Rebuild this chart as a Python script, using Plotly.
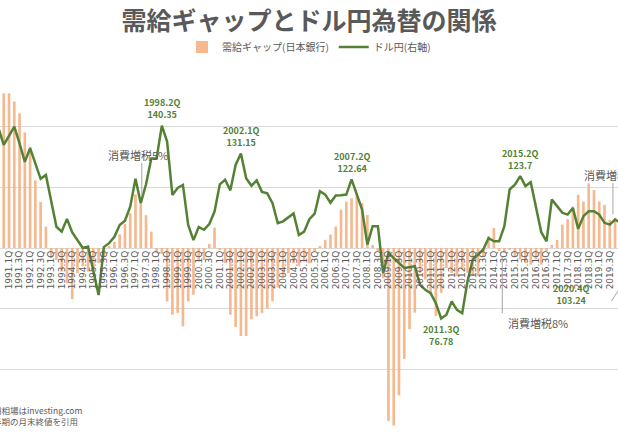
import plotly.graph_objects as go

years = list(range(1990, 2022))
quarters = [f"{y}.{q}Q" for y in years for q in (1, 2, 3, 4)][:125]

output_gap = [4.5, 4.8, 5.0, 5.1, 5.1, 4.83, 4.44, 3.81, 3.34, 2.23, 1.52, 0.7,
              -0.34, -0.4, -0.78, -1.16, -1.68, -0.83, -0.6, -0.78, -0.65, -0.5, -0.3, 0.05,
              0.2, 0.45, 0.8, 1.14, 1.77, 1.46, 1.08, 0.54, -0.17, -0.2, -1.76, -2.2,
              -2.14, -2.58, -1.76, -1.54, -0.45, -0.4, 0.13, 0.67, -0.07, -0.5, -2.2, -2.6,
              -2.9, -2.9, -2.35, -2.25, -2.14, -2.0, -1.76, -1.3, -0.93, -0.83, -0.5, -0.6,
              -0.45, -0.5, -0.1, 0.05, 0.27, 0.44, 0.71, 1.26, 1.53, 1.64, 1.8, 1.48,
              1.09, 0.1, -0.1, -1.0, -5.7, -5.85, -4.86, -3.66, -2.68, -2.13, -0.82, -1.04,
              -1.48, -2.24, -1.48, -0.66, -0.82, -0.93, -0.71, -0.82, -0.93, -0.93, -0.27, 0.38,
              0.66, -0.1, -0.16, -0.05, -0.27, -0.38, -0.49, -0.55, -0.38, -0.55, -0.1, 0.1,
              0.27, 0.77, 0.95, 1.37, 1.75, 1.53, 2.13, 1.91, 1.53, 1.42, 0.93, 1.0,
              -0.5, -4.0, -1.5, -1.0, -1.3]

usdjpy = [157.7, 152.9, 139.5, 134, 137, 140, 134.5, 128.4, 132.9, 127.5, 122.8, 124.1,
          116, 107, 105.4, 109.6, 105.1, 102.5, 100, 100.5, 92, 84.5, 100.3, 101.6,
          103.7, 107.6, 109, 113.6, 122.8, 114.8, 121, 129.5, 129.5, 140.35, 135.1, 117.5,
          119.8, 120.8, 107.6, 102.6, 106.9, 106, 107.9, 112, 121, 122.5, 119, 127.4,
          131.15, 123, 120.5, 122.3, 118.5, 118, 114.8, 108.2, 108.8, 110, 111.4, 104.3,
          105.4, 109.5, 111.3, 118.7, 117.6, 114.9, 117.3, 117.4, 117.6, 122.64, 117.6, 112.7,
          101.1, 107.2, 107.2, 91.7, 98.3, 96.7, 94.8, 93.4, 93.7, 94, 87.9, 86.2,
          85.1, 81.8, 76.78, 78, 82.4, 79.6, 78.5, 89, 96.2, 97.8, 99.5, 103.3,
          102.2, 102.2, 107.2, 119.3, 120.9, 123.7, 120.4, 121.7, 113.8, 105.2, 102.2, 116,
          113.8, 111.6, 111, 113.2, 106.3, 110.5, 112.1, 112.1, 111, 108.3, 107.7, 109.4,
          108.3, 107.9, 105.5, 103.24, 110.7]

tick_labels = [q for q in quarters if q.endswith(".1Q") or q.endswith(".3Q")]

peak_labels = [("1998.2Q", 140.35, 1), ("2002.1Q", 131.15, 1), ("2007.2Q", 122.64, 1),
               ("2011.3Q", 76.78, -1), ("2015.2Q", 123.7, 1)]

GREEN = "#548235"
GRAY = "#595959"
FONT = "Noto Sans CJK JP"

fig = go.Figure()
fig.add_trace(go.Bar(x=quarters, y=output_gap, name="需給ギャップ(日本銀行)",
                     marker=dict(color="#f4b183", line=dict(width=0)), width=0.5,
                     opacity=0.9, yaxis="y"))
fig.add_trace(go.Scatter(x=quarters, y=usdjpy, name="ドル円(右軸)", mode="lines",
                         line=dict(color=GREEN, width=2.5), yaxis="y2"))

ann = []
for q, v, d in peak_labels:
    ann.append(dict(x=q, y=v, xref="x", yref="y2", text=f"<b>{q}<br>{v}</b>",
                    showarrow=False, yshift=17 * d, font=dict(size=9, color=GREEN, family=FONT)))
ann += [
    dict(x=28.5, y=130.7, xref="x", yref="y2", text="消費増税5%", showarrow=False,
         font=dict(size=11, color=GRAY, family=FONT)),
    dict(x=104.4, y=75.2, xref="x", yref="y2", text="消費増税8%", showarrow=False,
         font=dict(size=11, color=GRAY, family=FONT)),
    dict(x=112.7, y=124, xref="x", yref="y2", text="消費増税10%", showarrow=False,
         xanchor="left", font=dict(size=11, color=GRAY, family=FONT)),
    dict(x=110.6, y=84.8, xref="x", yref="y2", text="<b>2020.4Q<br>103.24</b>", showarrow=False,
         font=dict(size=9, color=GREEN, family=FONT)),
    dict(x=0, y=0.04, xref="paper", yref="paper", xanchor="left", yanchor="middle", align="left",
         text="ドル円相場はinvesting.com<br>各四半期の月末終値を引用", showarrow=False,
         font=dict(size=8.5, color=GRAY, family=FONT), xshift=-26),
]

shapes = [
    dict(type="line", xref="x", yref="y2", x0=29.2, x1=29.2, y0=128, y1=117,
         line=dict(color="#a6a6a6", width=1)),
    dict(type="line", xref="x", yref="y2", x0=97.6, x1=97.6, y0=97, y1=78.5,
         line=dict(color="#a6a6a6", width=1)),
    dict(type="line", xref="x", yref="y2", x0=118.6, x1=118.6, y0=121.5, y1=111,
         line=dict(color="#a6a6a6", width=1)),
    dict(type="line", xref="x", yref="y2", x0=118.3, x1=120, y0=82.5, y1=87,
         line=dict(color="#a6a6a6", width=1)),
]

fig.update_layout(
    width=618, height=440, margin=dict(l=0, r=0, t=66, b=10, autoexpand=False),
    paper_bgcolor="white", plot_bgcolor="white", bargap=0.5,
    font=dict(family=FONT, color=GRAY),
    title=dict(text="<b>需給ギャップとドル円為替の関係</b>", x=0.5, xanchor="center",
               y=1 - 21 / 440, yanchor="middle", yref="container",
               font=dict(size=25, color=GRAY, family=FONT)),
    showlegend=True,
    legend=dict(orientation="h", x=0.5, xanchor="center", y=1 - 47 / 440, yanchor="middle",
                yref="container", font=dict(size=10, color=GRAY), itemwidth=30,
                traceorder="normal"),
    xaxis=dict(type="category", categoryorder="array", categoryarray=quarters,
               range=[2.29, 119.56], tickvals=tick_labels, ticktext=tick_labels,
               tickangle=-90, tickfont=dict(size=9, color=GRAY, family="DejaVu Sans"),
               anchor="free", position=0.5, showgrid=False, showline=False,
               ticks="", zeroline=False, automargin=False),
    yaxis=dict(range=[-6, 6], dtick=2, showticklabels=False, gridcolor="#d9d9d9",
               zeroline=False, automargin=False),
    yaxis2=dict(range=[40, 160], overlaying="y", side="right", showticklabels=False,
                showgrid=False, zeroline=False, automargin=False),
    annotations=ann, shapes=shapes,
)
fig.write_html("out.html", config={"displayModeBar": False})
with open("out.html", encoding="utf-8") as f:
    html = f.read()
html = html.replace("<head>", "<head><style>body{margin:0;overflow:hidden}</style>", 1)
with open("out.html", "w", encoding="utf-8") as f:
    f.write(html)
